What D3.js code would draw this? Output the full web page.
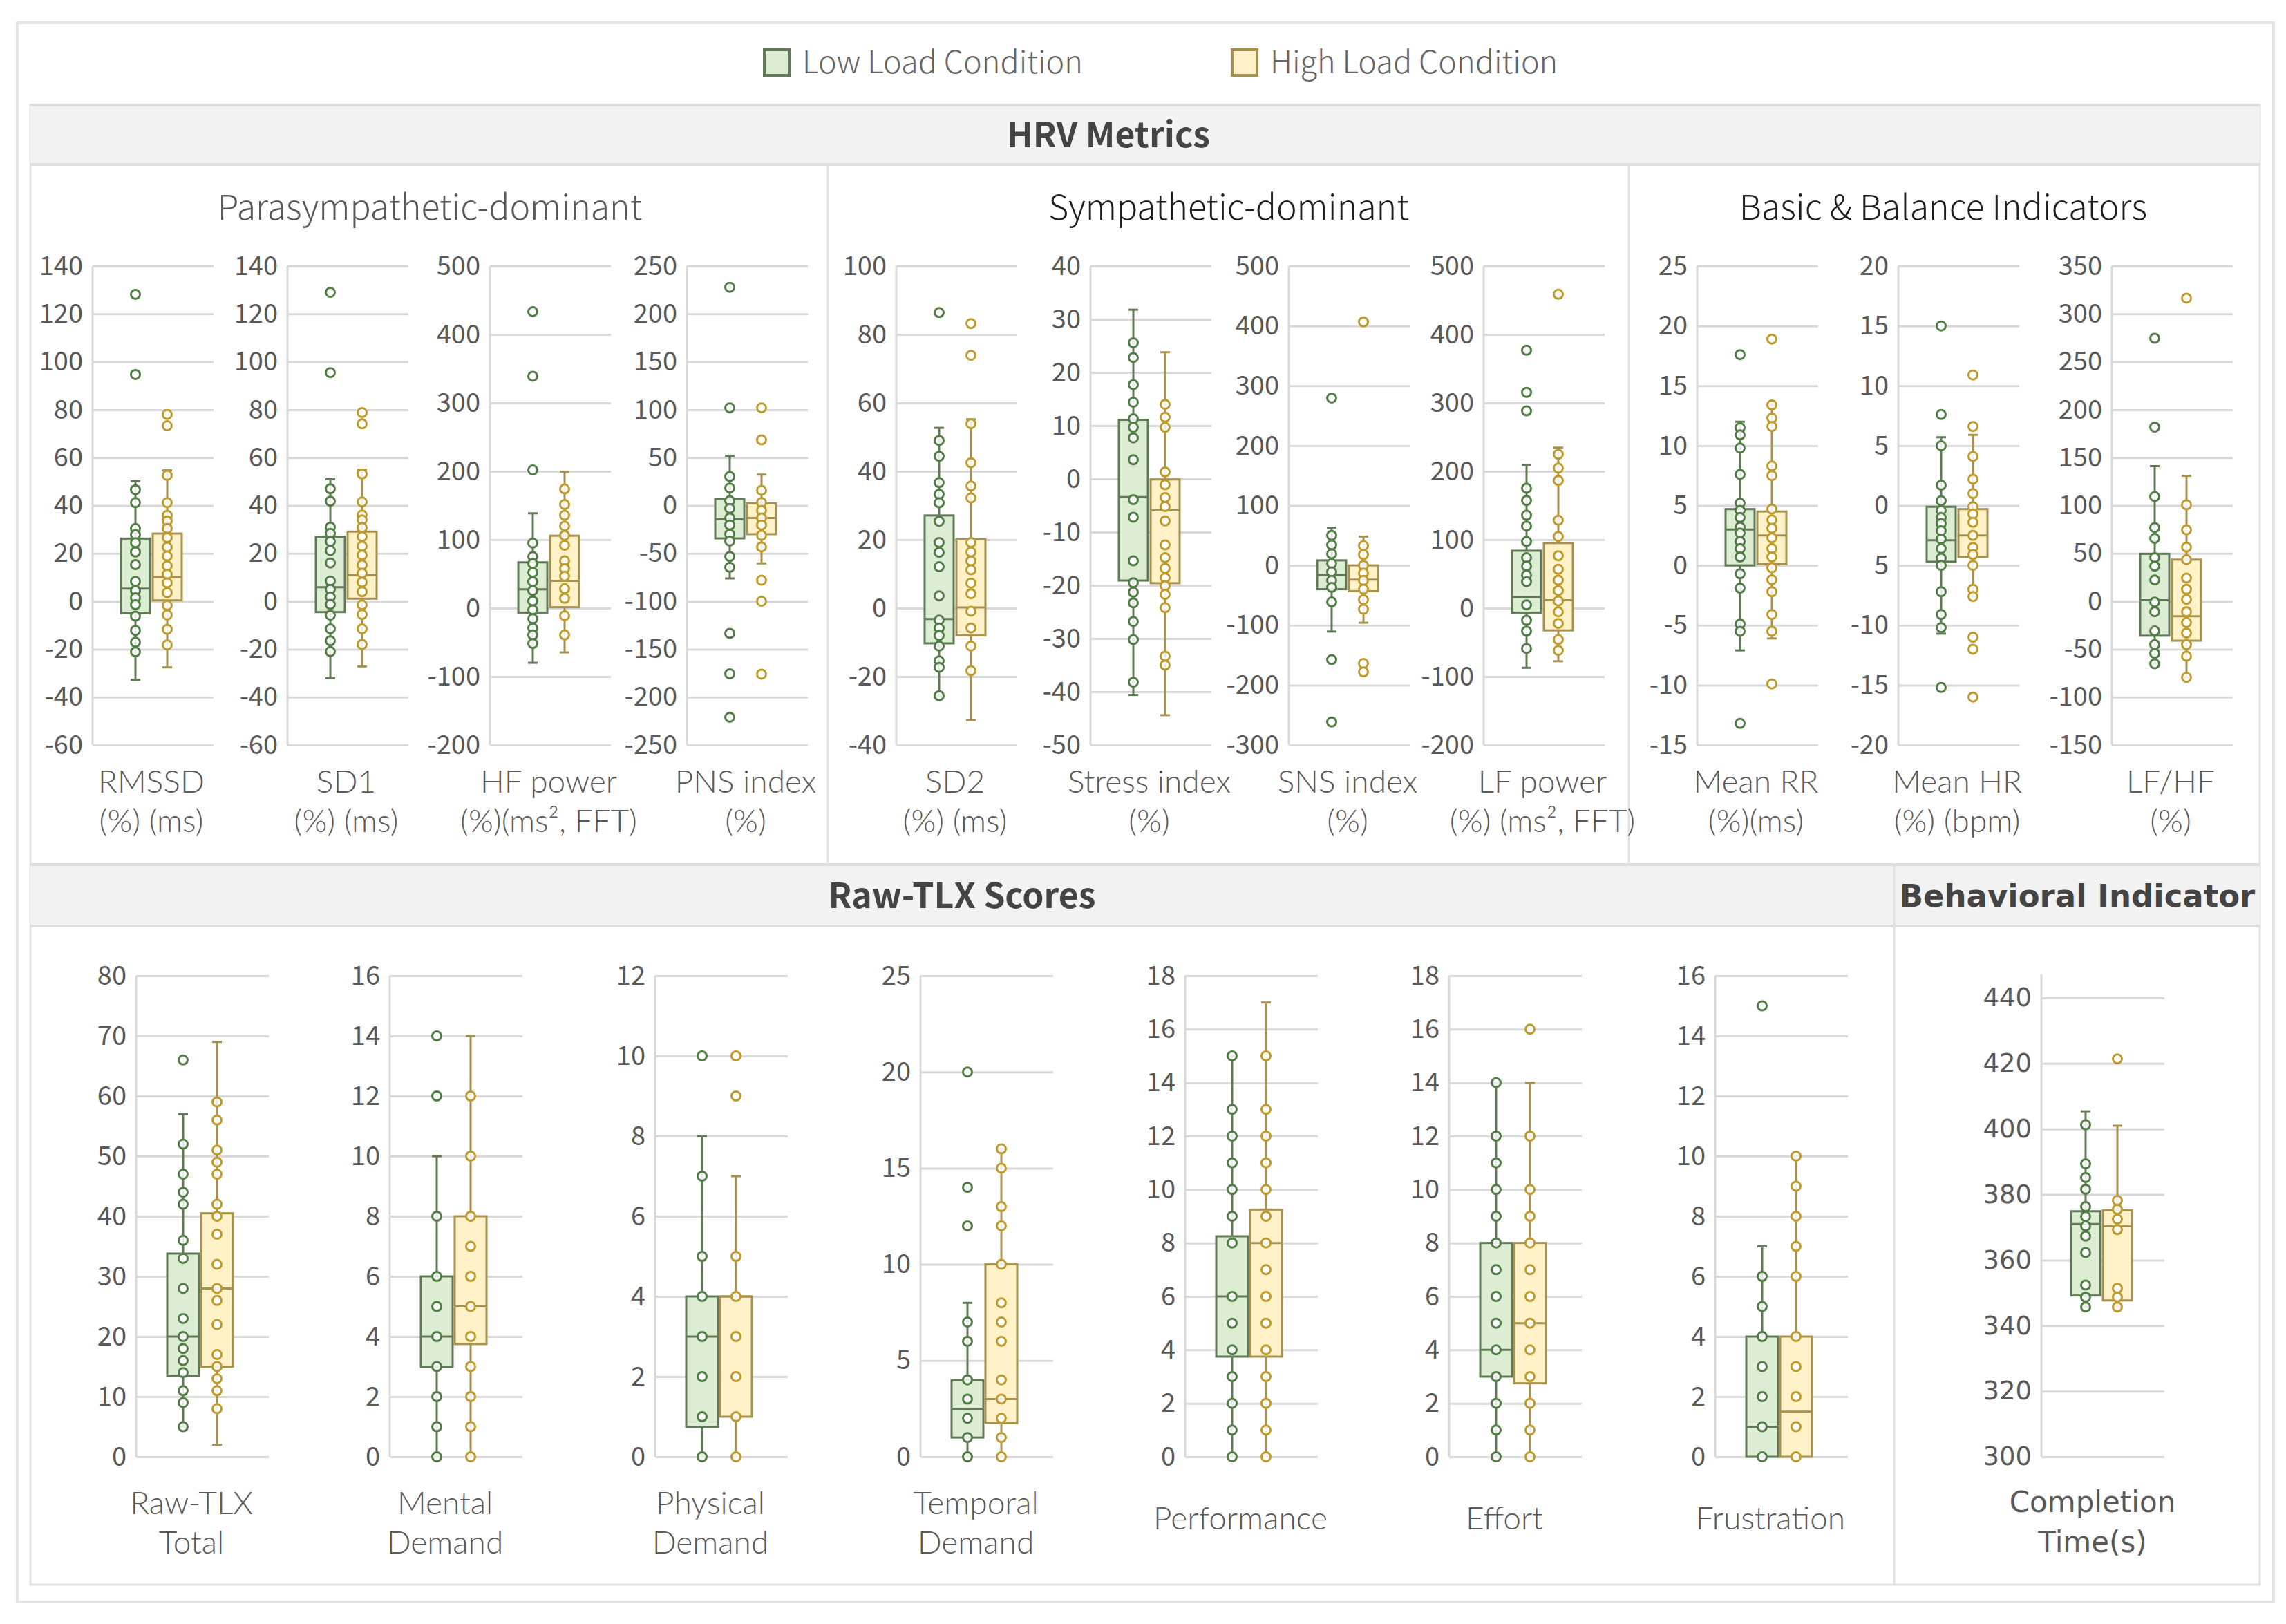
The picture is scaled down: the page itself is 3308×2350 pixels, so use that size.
<!DOCTYPE html>
<html>
<head>
<meta charset="utf-8">
<script src="https://cdn.jsdelivr.net/npm/d3@7"></script>
<style>
  body { margin: 0; background: #fff; }
  svg text { font-family: "Noto Sans CJK SC", "Noto Sans", sans-serif; }
</style>
</head>
<body>
<svg id="chart" width="3308" height="2350"></svg>
<script>
/////////////////////////// Data ///////////////////////////

const conditions = ["Low Load Condition", "High Load Condition"];

//_________________ HRV metrics
const hrvGroups = ["Parasympathetic-dominant", "Sympathetic-dominant", "Basic & Balance Indicators"];
const hrvLabels = [
  ["RMSSD", "(%) (ms)"], ["SD1", "(%) (ms)"], ["HF power", "(%)(ms², FFT)"], ["PNS index", "(%)"],
  ["SD2", "(%) (ms)"], ["Stress index", "(%)"], ["SNS index", "(%)"], ["LF power", "(%) (ms², FFT)"],
  ["Mean RR", "(%)(ms)"], ["Mean HR", "(%) (bpm)"], ["LF/HF", "(%)"]
];
const hrvTicks = [
  [-60, -40, -20, 0, 20, 40, 60, 80, 100, 120, 140],
  [-60, -40, -20, 0, 20, 40, 60, 80, 100, 120, 140],
  [-200, -100, 0, 100, 200, 300, 400, 500],
  [-250, -200, -150, -100, -50, 0, 50, 100, 150, 200, 250],
  [-40, -20, 0, 20, 40, 60, 80, 100],
  [-50, -40, -30, -20, -10, 0, 10, 20, 30, 40],
  [-300, -200, -100, 0, 100, 200, 300, 400, 500],
  [-200, -100, 0, 100, 200, 300, 400, 500],
  [-15, -10, -5, 0, 5, 10, 15, 20, 25],
  [-20, -15, -10, -5, 0, 5, 10, 15, 20],
  [-150, -100, -50, 0, 50, 100, 150, 200, 250, 300, 350]
];
// Mean HR axis prints "5" where -5 should be (kept as in the figure)
const meanHrTickText = ["-20", "-15", "-10", "5", "0", "5", "10", "15", "20"];

// [lower whisker, Q1, median, Q3, upper whisker]
const hrvLowBox = [
  [-32.8, -5, 5.3, 26.2, 50.1],
  [-32.1, -4.5, 5.9, 27, 51],
  [-79.9, -6.5, 27.4, 66.9, 138.6],
  [-76.1, -34.3, -14.3, 7, 52],
  [-25.6, -10.3, -3.2, 27.1, 52.7],
  [-40.6, -19.1, -3.4, 11.1, 31.8],
  [-110.5, -39.8, -16.1, 8.4, 63],
  [-87.2, -6.5, 16.1, 83.9, 209.2],
  [-7.1, 0, 3, 4.7, 12],
  [-10.7, -4.7, -2.9, -0.1, 5.7],
  [-65.3, -35.9, 1.2, 49.6, 141.1]
];
const hrvHighBox = [
  [-27.6, 0.4, 10.1, 28.3, 54.7],
  [-27.2, 1.1, 10.9, 29.1, 55],
  [-64.7, 1.4, 39.8, 105.9, 199.6],
  [-60.4, -29.9, -13, 2.2, 32.3],
  [-32.7, -8, 0.2, 20.1, 55.2],
  [-44.4, -19.6, -5.9, -0.1, 23.8],
  [-95.8, -43.1, -23.8, 0, 48.2],
  [-77.6, -32.5, 11.6, 95.1, 234.6],
  [-6.1, 0.1, 2.5, 4.5, 13.4],
  [-7.6, -4.3, -2.5, -0.3, 5.9],
  [-79.4, -41.1, -15.7, 43.5, 131]
];
// individual values (inner points + outliers)
const hrvLowPts = [
  [128.2, 94.7, 46.6, 41.2, 30.4, 27.8, 24.5, 20.6, 15.3, 8.3, 4.5, 1.5, -1.4, -6.2, -12.2, -17.1, -21.1],
  [129, 95.5, 47, 41.8, 31, 28.4, 25, 21.2, 16, 8.5, 5, 1.8, -1.3, -5.8, -11.5, -16.5, -21],
  [433.4, 339, 201.9, 95.1, 75.4, 65.2, 52.2, 38.7, 25.7, 10.4, -2.5, -15.5, -29.1, -39.2, -51.7],
  [227.9, 102, 30.3, 18.3, 5, -3, -13, -20.3, -29.9, -37.1, -53.2, -64.5, -133.5, -175.7, -221.1],
  [86.4, 49, 44.4, 36.7, 33.3, 30.8, 25.4, 19.2, 16.3, 12.1, 3.6, -3.5, -5.8, -8, -11.1, -15.4, -17.3, -25.6],
  [25.6, 22.8, 17.7, 14.4, 11.3, 9.7, 7.7, 3.6, -3.9, -7.2, -15.4, -19.5, -21.3, -23.3, -26.8, -30.2, -38.2],
  [279.6, 50.1, 34.1, 19.3, 3.2, -10.9, -25.1, -36.7, -61.1, -157.5, -261.6],
  [376.9, 315.4, 288.3, 175.3, 157.3, 135.8, 120, 97.4, 73.7, 61.3, 48.3, 38.7, 4.8, -17.8, -33.6, -59],
  [17.6, 11.5, 10.9, 9.8, 7.6, 5.2, 4.6, 4, 3.2, 2.7, 2, 1.4, 0.7, -0.7, -1.9, -4.9, -5.5, -13.2],
  [15, 7.6, 5, 1.7, 0.4, -0.4, -1, -1.5, -2.1, -2.8, -3.6, -4.4, -5, -7.2, -9.1, -10.2, -15.2],
  [274.6, 181.9, 109.3, 77, 65.7, 45.6, 36.7, 22.2, -0.8, -10.9, -31, -45.2, -54.4, -65.3]
];
const hrvHighPts = [
  [78, 73.3, 52.6, 41.2, 35.9, 33.6, 30.4, 26.6, 22.6, 18.9, 14.8, 11.3, 7.7, 3.6, -1.7, -5.7, -11.7, -18.2],
  [78.8, 74.1, 53.2, 41.5, 36, 34, 30.8, 27, 23, 19.3, 15.2, 11.7, 8, 4, -1.5, -5.5, -11.5, -18],
  [174.2, 151.6, 135.8, 120, 106.4, 91.8, 69.2, 57.9, 46.6, 28.5, 14.4, -11, -39.2],
  [102, 68.5, 15.9, 3, -5, -13, -20.3, -31.1, -43.2, -78, -100, -176],
  [83.2, 73.9, 53.9, 42.5, 35.7, 32.2, 19.2, 16.4, 13.8, 11.2, 7.3, 4.2, -0.9, -5.8, -11.1, -18.3],
  [14, 11.6, 9.7, 1.3, -1.1, -3.5, -5.2, -7.9, -12.4, -14.8, -16.8, -18.6, -20.1, -21.7, -24.2, -33.3, -35],
  [406.8, 32.8, 18, 0, -12.9, -25.1, -39.8, -57.2, -73.3, -163.9, -178],
  [458.8, 225, 204.7, 186.6, 128.5, 104.7, 76.5, 56.8, 40.9, 25.7, 10.4, -5.4, -22.4, -46, -61.8],
  [18.9, 13.4, 12.3, 11.6, 8.3, 7.5, 4.7, 3.8, 3.1, 2.3, 1.4, 0.7, -0.2, -1.2, -2.2, -4.1, -5.5, -9.9],
  [10.9, 6.6, 4.1, 2.2, 1, -0.1, -0.7, -1.4, -2.5, -3.5, -4.1, -5, -7, -7.6, -11, -12, -16],
  [316.5, 100.8, 74.6, 56.5, 43.5, 24.2, 12.5, 2, -10.9, -22.2, -33.1, -45.2, -57.3, -79.4]
];

//_________________ Raw-TLX scores
const tlxLabels = [["Raw-TLX", "Total"], ["Mental", "Demand"], ["Physical", "Demand"], ["Temporal", "Demand"],
  ["Performance"], ["Effort"], ["Frustration"]];
const tlxTicks = [
  [0, 10, 20, 30, 40, 50, 60, 70, 80],
  [0, 2, 4, 6, 8, 10, 12, 14, 16],
  [0, 2, 4, 6, 8, 10, 12],
  [0, 5, 10, 15, 20, 25],
  [0, 2, 4, 6, 8, 10, 12, 14, 16, 18],
  [0, 2, 4, 6, 8, 10, 12, 14, 16, 18],
  [0, 2, 4, 6, 8, 10, 12, 14, 16]
];
const tlxLowBox = [
  [5, 13.5, 20, 33.8, 57], [0, 3, 4, 6, 10], [0, 0.75, 3, 4, 8], [0, 1, 2.5, 4, 8],
  [0, 3.75, 6, 8.25, 15], [0, 3, 4, 8, 14], [0, 0, 1, 4, 7]
];
const tlxHighBox = [
  [2, 15, 28, 40.5, 69], [0, 3.75, 5, 8, 14], [0, 1, 4, 4, 7], [0, 1.75, 3, 10, 16],
  [0, 3.75, 8, 9.25, 17], [0, 2.75, 5, 8, 14], [0, 0, 1.5, 4, 10]
];
const tlxLowPts = [
  [66, 52, 47, 44, 42, 36, 33, 28, 23, 20, 18, 16, 14, 11, 9, 5],
  [14, 12, 8, 6, 5, 4, 3, 2, 1, 0],
  [10, 7, 5, 4, 3, 2, 1, 0],
  [20, 14, 12, 7, 6, 4, 3, 2, 1, 0],
  [15, 13, 12, 11, 10, 9, 8, 6, 5, 4, 3, 2, 1, 0],
  [14, 12, 11, 10, 9, 8, 7, 6, 5, 4, 3, 2, 1, 0],
  [15, 6, 5, 4, 3, 2, 1, 0]
];
const tlxHighPts = [
  [59, 56, 51, 49, 47, 42, 40, 37, 32, 28, 26, 22, 17, 15, 13, 11, 8],
  [12, 10, 8, 7, 6, 5, 4, 3, 2, 1, 0],
  [10, 9, 5, 4, 3, 2, 1, 0],
  [16, 15, 13, 12, 10, 8, 7, 6, 4, 3, 2, 1, 0],
  [15, 13, 12, 11, 10, 9, 8, 7, 6, 5, 4, 3, 2, 1, 0],
  [16, 12, 10, 9, 8, 7, 6, 5, 4, 3, 2, 1, 0],
  [10, 9, 8, 7, 6, 4, 3, 2, 1, 0]
];

//_________________ Behavioral indicator
const behLabel = ["Completion", "Time(s)"];
const behTicks = [300, 320, 340, 360, 380, 400, 420, 440];
const behLowBox = [345.7, 349.2, 371, 374.9, 405.4];
const behHighBox = [345.7, 347.7, 370.3, 375.2, 401];
const behLowPts = [401.3, 389.4, 385.2, 381.6, 376.3, 373.3, 370.4, 367.3, 362.3, 352.4, 348.7, 345.7];
const behHighPts = [421.4, 378.2, 375.5, 372.5, 369.3, 351.4, 348.7, 345.7];


/////////////////////////// Drawing ///////////////////////////

const svg = d3.select('#chart');
const FONT = '"Noto Sans CJK SC", "Noto Sans", sans-serif';
const LABEL = 'Lato, "Noto Sans", sans-serif';
const WIDE = '"DejaVu Sans", "Noto Sans", sans-serif';

const style = {
  low: { fill: '#dcedd4', stroke: '#5f7a55', pt: '#527d47' },
  high: { fill: '#fff1c8', stroke: '#a8904e', pt: '#bf9b2c' }
};

//_________________ Frame & bands
svg.append('rect').attr('x', 25).attr('y', 33).attr('width', 3265).attr('height', 2285)
  .attr('fill', 'none').attr('stroke', '#e4e4e4').attr('stroke-width', 4);
svg.append('rect').attr('x', 44).attr('y', 152).attr('width', 3226).attr('height', 2141)
  .attr('fill', 'none').attr('stroke', '#e2e2e2').attr('stroke-width', 3);

function band(x, y, w, h, title, cx, font, size, weight) {
  svg.append('rect').attr('x', x).attr('y', y).attr('width', w).attr('height', h)
    .attr('fill', '#f2f2f2');
  svg.append('line').attr('x1', x).attr('x2', x + w).attr('y1', y).attr('y2', y)
    .attr('stroke', '#dedede').attr('stroke-width', 4);
  svg.append('line').attr('x1', x).attr('x2', x + w).attr('y1', y + h).attr('y2', y + h)
    .attr('stroke', '#dedede').attr('stroke-width', 4);
  svg.append('text').attr('x', cx).attr('y', y + h / 2 + size * 0.36)
    .attr('text-anchor', 'middle').attr('fill', '#444')
    .style('font-family', font).style('font-size', size + 'px').style('font-weight', weight)
    .text(title);
}
band(44, 152, 3226, 86, 'HRV Metrics', 1604, FONT, 50, 700);
band(44, 1251, 2697, 89, 'Raw-TLX Scores', 1392, FONT, 50, 700);
band(2741, 1251, 529, 89, 'Behavioral Indicator', 3006, WIDE, 45, 700);

// section dividers
[[1198, 238, 1251], [2357, 238, 1251], [2741, 1251, 2293]].forEach(([x, y1, y2]) => {
  svg.append('line').attr('x1', x).attr('x2', x).attr('y1', y1).attr('y2', y2)
    .attr('stroke', '#e2e2e2').attr('stroke-width', 3);
});

// HRV group titles
const groupCx = [622, 1778, 2812];
const groupColor = ['#595959', '#1f1f1f', '#1f1f1f'];
hrvGroups.forEach((t, i) => {
  svg.append('text').attr('x', groupCx[i]).attr('y', 318).attr('text-anchor', 'middle')
    .attr('fill', groupColor[i]).style('font-size', '50px').style('font-weight', 300).text(t);
});

//_________________ Legend
const legendX = [1106, 1783];
conditions.forEach((c, i) => {
  const s = i === 0 ? style.low : style.high;
  svg.append('rect').attr('x', legendX[i]).attr('y', 72).attr('width', 36).attr('height', 37)
    .attr('fill', s.fill).attr('stroke', s.stroke).attr('stroke-width', 4);
  svg.append('text').attr('x', legendX[i] + 55).attr('y', 106).attr('fill', '#666')
    .style('font-size', '45px').style('font-weight', 300).text(c);
});

//_________________ One box panel
function drawPanel(p) {
  const y = d3.scaleLinear().domain(d3.extent(p.ticks)).range([p.bottom, p.top]);
  const x = d3.scalePoint().domain(['low', 'high']).range([p.x + p.offLow, p.x + p.offHigh]);
  const g = svg.append('g');

  // light vertical axis
  g.append('line').attr('x1', p.x).attr('x2', p.x)
    .attr('y1', p.axisTop != null ? p.axisTop : p.top).attr('y2', p.bottom)
    .attr('stroke', '#d9d9d9').attr('stroke-width', 3);

  const axis = d3.axisLeft(y).tickValues(p.ticks).tickSize(-p.gridW).tickPadding(14)
    .tickFormat((d, i) => p.tickText ? p.tickText[i] : d);
  const ag = g.append('g').attr('transform', `translate(${p.x},0)`).call(axis);
  ag.select('.domain').remove();
  ag.selectAll('.tick line').attr('stroke', '#d9d9d9').attr('stroke-width', 3);
  ag.selectAll('.tick text').attr('fill', '#595959')
    .style('font-family', p.font).style('font-size', p.tickSize + 'px');

  const series = [
    { key: 'low', box: p.lowBox, pts: p.lowPts },
    { key: 'high', box: p.highBox, pts: p.highPts }
  ];
  series.forEach(s => {
    const c = style[s.key];
    const cx = x(s.key);
    const [wLo, q1, med, q3, wHi] = s.box;
    const hw = p.boxW / 2;
    // whiskers
    [[wHi, q3], [q1, wLo]].forEach(([a, b]) => {
      g.append('line').attr('x1', cx).attr('x2', cx).attr('y1', y(a)).attr('y2', y(b))
        .attr('stroke', c.stroke).attr('stroke-width', 3);
    });
    [wLo, wHi].forEach(v => {
      g.append('line').attr('x1', cx - 7).attr('x2', cx + 7).attr('y1', y(v)).attr('y2', y(v))
        .attr('stroke', c.stroke).attr('stroke-width', 3);
    });
    // box
    g.append('rect').attr('x', cx - hw).attr('y', y(q3)).attr('width', p.boxW)
      .attr('height', Math.max(y(q1) - y(q3), 1))
      .attr('fill', c.fill).attr('stroke', c.stroke).attr('stroke-width', 3);
    g.append('line').attr('x1', cx - hw).attr('x2', cx + hw).attr('y1', y(med)).attr('y2', y(med))
      .attr('stroke', c.stroke).attr('stroke-width', 3);
    // points
    g.selectAll(null).data(s.pts).enter().append('circle')
      .attr('cx', cx).attr('cy', d => y(d)).attr('r', 6.5)
      .attr('fill', '#fff').attr('fill-opacity', 0.85)
      .attr('stroke', c.pt).attr('stroke-width', 3);
  });

  // category label
  p.label.forEach((t, i) => {
    g.append('text').attr('x', p.x + p.labelDx).attr('y', p.labelY[p.label.length - 1][i])
      .attr('text-anchor', 'middle').attr('fill', '#595959')
      .style('font-family', p.labelFont).style('font-size', p.labelSize + 'px')
      .style('font-weight', p.labelWeight)
      .text(t);
  });
}

//_________________ HRV panels
const hrvAxisX = [134, 416, 709, 994, 1297, 1578, 1865, 2147, 2456, 2747, 3056];
hrvLabels.forEach((lab, i) => {
  drawPanel({
    x: hrvAxisX[i], top: 385, bottom: 1078, gridW: 175,
    offLow: 62, offHigh: 108, boxW: 42,
    ticks: hrvTicks[i], tickText: i === 9 ? meanHrTickText : null,
    lowBox: hrvLowBox[i], highBox: hrvHighBox[i], lowPts: hrvLowPts[i], highPts: hrvHighPts[i],
    label: lab, labelDx: 85, labelY: [[1160], [1147, 1204]],
    font: FONT, tickSize: 38, labelFont: LABEL, labelSize: 46, labelWeight: 300
  });
});

//_________________ Raw-TLX panels
const tlxAxisX = [197, 564, 948, 1332, 1715, 2097, 2482];
tlxLabels.forEach((lab, i) => {
  drawPanel({
    x: tlxAxisX[i], top: 1412, bottom: 2108, gridW: 192,
    offLow: 68, offHigh: 117, boxW: 46,
    ticks: tlxTicks[i], tickText: null,
    lowBox: tlxLowBox[i], highBox: tlxHighBox[i], lowPts: tlxLowPts[i], highPts: tlxHighPts[i],
    label: lab, labelDx: 80, labelY: [[2213], [2191, 2248]],
    font: FONT, tickSize: 38, labelFont: LABEL, labelSize: 46, labelWeight: 300
  });
});

//_________________ Behavioral panel
drawPanel({
  x: 2954, top: 1444, bottom: 2108, axisTop: 1410, gridW: 178,
  offLow: 64, offHigh: 110, boxW: 42,
  ticks: behTicks, tickText: null,
  lowBox: behLowBox, highBox: behHighBox, lowPts: behLowPts, highPts: behHighPts,
  label: behLabel, labelDx: 74, labelY: [[2200], [2188, 2246]],
  font: WIDE, tickSize: 37, labelFont: WIDE, labelSize: 42, labelWeight: 400
});
</script>
</body>
</html>
